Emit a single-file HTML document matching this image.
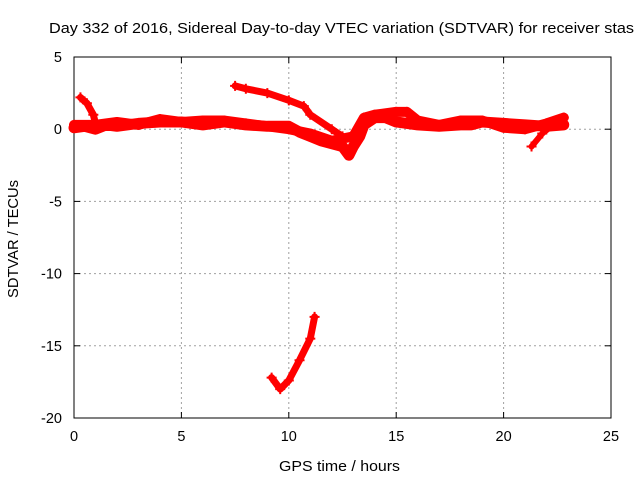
<!DOCTYPE html>
<html><head><meta charset="utf-8"><style>
html,body{margin:0;padding:0;background:#fff;}
svg{display:block;font-family:"Liberation Sans",sans-serif;}
</style></head><body>
<svg id="chart" width="640" height="480" viewBox="0 0 640 480" xmlns="http://www.w3.org/2000/svg">
<text x="49" y="33" font-size="14.5" textLength="585" lengthAdjust="spacingAndGlyphs" fill="#000">Day 332 of 2016, Sidereal Day-to-day VTEC variation (SDTVAR) for receiver stas</text>
<g id="grid"></g>
<g id="axes"></g>
<g id="series"></g>
<text x="279" y="471" font-size="14.5" textLength="121" lengthAdjust="spacingAndGlyphs">GPS time / hours</text>
<text transform="translate(18,298) rotate(-90)" font-size="14.5" textLength="118" lengthAdjust="spacingAndGlyphs">SDTVAR / TECUs</text>
</svg>
<script>
const xTicks=[0,5,10,15,20,25];
const yTicks=[5,0,-5,-10,-15,-20];
const bandAx=[0,0.5,1,1.5,2,3,4,5,6,7,8,9,10,10.5,11,11.5,12,12.5,12.8,13,13.3,13.5,14,14.5,15,16,17,18,18.5,19,20,21,22,22.8];
const bandAy=[0.1,0.2,0.0,0.3,0.2,0.4,0.5,0.5,0.3,0.5,0.3,0.2,0.2,-0.2,-0.5,-0.8,-1.0,-1.2,-1.8,-1.2,-0.5,0.3,0.8,0.8,0.5,0.3,0.2,0.3,0.3,0.5,0.4,0.3,0.2,0.3];
const bandBx=[0,1,2,3,4,5,6,7,8,9,10,11,12,13,13.5,14,15,15.5,16,17,18,19,20,21,22,22.8];
const bandBy=[0.3,0.3,0.5,0.3,0.7,0.5,0.6,0.6,0.4,0.2,0.0,-0.3,-0.8,-0.5,0.8,1.0,1.2,1.2,0.6,0.3,0.6,0.6,0.1,0.0,0.4,0.8];
const spurX=[0.3,0.6,0.9,1.0];
const spurY=[2.2,1.8,1.0,0.4];
const upperX=[7.5,8,9,10,10.7,11,12,12.5];
const upperY=[3.0,2.8,2.5,2.0,1.6,1.0,0.0,-0.5];
const dropX=[21.3,21.8,22.3];
const dropY=[-1.2,-0.3,0.3];
const lowX=[9.2,9.6,10.0,10.5,11.0,11.2];
const lowY=[-17.2,-18.0,-17.4,-16.0,-14.5,-13.0];

const X0=74,X1=611,Y0=57,Y1=418;
const sx=v=>X0+(v-0)/25*(X1-X0);
const sy=v=>Y0+(5-v)/25*(Y1-Y0);
const NS="http://www.w3.org/2000/svg";
function mk(t,a,p){const e=document.createElementNS(NS,t);for(const k in a)e.setAttribute(k,a[k]);p.appendChild(e);return e;}
const grid=document.getElementById('grid'),axes=document.getElementById('axes'),ser=document.getElementById('series');
xTicks.forEach(t=>{
 const x=sx(t);
 if(t>0&&t<25){const l=mk('line',{x1:x,y1:Y0,x2:x,y2:Y1,stroke:'#a0a0a0','stroke-dasharray':'2,3'},grid);
 
 }
 mk('line',{x1:x,y1:Y1,x2:x,y2:Y1-6,stroke:'#000'},axes);
 mk('line',{x1:x,y1:Y0,x2:x,y2:Y0+6,stroke:'#000'},axes);
 const tx=mk('text',{x:x,y:Y1+23,'font-size':14.5,'text-anchor':'middle'},axes);tx.textContent=t;
 
 
});
yTicks.forEach(t=>{
 const y=sy(t);
 if(t<5&&t>-20){const l=mk('line',{x1:X0,y1:y,x2:X1,y2:y,stroke:'#a0a0a0','stroke-dasharray':'2,3'},grid);
 
 }
 mk('line',{x1:X0,y1:y,x2:X0+6,y2:y,stroke:'#000'},axes);
 mk('line',{x1:X1,y1:y,x2:X1-6,y2:y,stroke:'#000'},axes);
 const tx=mk('text',{x:X0-12,y:y+5,'font-size':14.5,'text-anchor':'end'},axes);tx.textContent=t;
 
 
});
const fr=mk('rect',{x:X0,y:Y0,width:X1-X0,height:Y1-Y0,fill:'none',stroke:'#000'},axes);


function series(xs,ys,w,name){
 const pts=xs.map((x,i)=>sx(x)+','+sy(ys[i])).join(' ');
 const p=mk('polyline',{points:pts,fill:'none',stroke:'#ff0000','stroke-width':w,'stroke-linejoin':'round','stroke-linecap':'round'},ser);
 
 
 xs.forEach((x,i)=>{const cx=sx(x),cy=sy(ys[i]);
  const m=mk('path',{d:`M${cx-5},${cy}H${cx+5}M${cx},${cy-5}V${cy+5}`,stroke:'#ff0000','stroke-width':2},ser);
  
  });
}
series(bandAx,bandAy,11,'sdtvar-band-lower');
series(bandBx,bandBy,10,'sdtvar-band-upper');
series(spurX,spurY,7,'sdtvar-start-spur');
series(upperX,upperY,7,'sdtvar-upper-trace');
series(dropX,dropY,6,'sdtvar-late-drop');
series(lowX,lowY,7,'sdtvar-low-trace');
</script>
</body></html>
